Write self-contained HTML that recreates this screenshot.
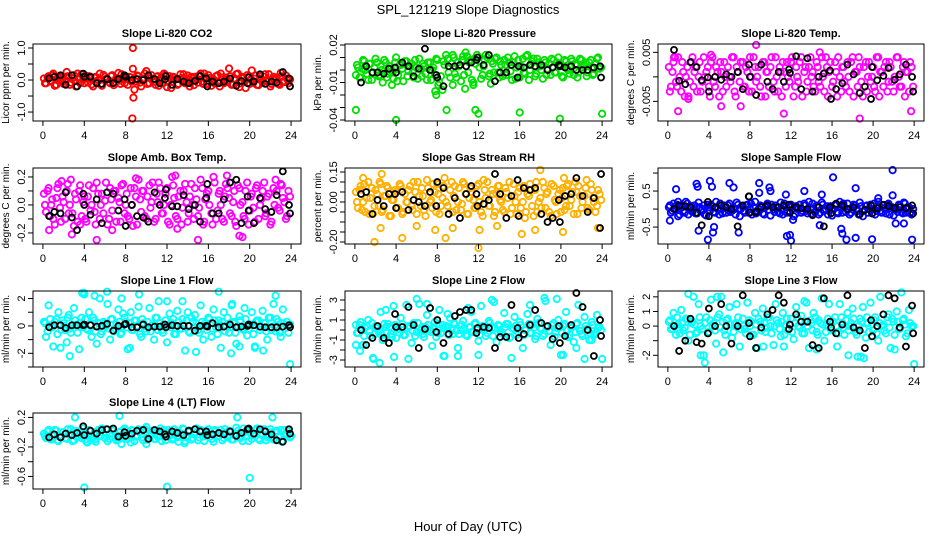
<!DOCTYPE html>
<html><head><meta charset="utf-8"><style>
html,body{margin:0;padding:0;background:#fff;}
svg{display:block;font-family:"Liberation Sans",sans-serif;}
</style></head><body>
<svg id="chart" width="936" height="540" viewBox="0 0 936 540" xmlns="http://www.w3.org/2000/svg">
<rect width="936" height="540" fill="#fff"/>
<text x="468" y="14" text-anchor="middle" font-size="13">SPL_121219  Slope Diagnostics</text>
<text x="468" y="531" text-anchor="middle" font-size="13">Hour of Day (UTC)</text>
</svg>
<script>
// shared time categories (hours)
const timesC=[0.1,0.3,0.55,0.8,1.0,1.3,1.5,1.75,2.0,2.3,2.5,2.7,3.0,3.2,3.5,3.75,4.0,4.2,4.45,4.7,5.0,5.2,5.5,5.7,6.0,6.25,6.5,6.7,7.0,7.3,7.5,7.75,8.0,8.2,8.5,8.7,9.0,9.25,9.5,9.7,10.0,10.3,10.5,10.75,11.0,11.2,11.5,11.7,12.0,12.25,12.5,12.7,13.0,13.3,13.5,13.75,14.0,14.2,14.5,14.7,15.0,15.25,15.5,15.7,16.0,16.3,16.5,16.75,17.0,17.2,17.5,17.7,18.0,18.25,18.5,18.7,19.0,19.3,19.5,19.75,20.0,20.2,20.5,20.7,21.0,21.25,21.5,21.7,22.0,22.3,22.5,22.75,23.0,23.2,23.5,23.75];
const timesC2=[0.2,0.45,0.7,0.9,1.15,1.4,1.65,1.9,2.15,2.4,2.6,2.85,3.1,3.35,3.6,3.9,4.1,4.35,4.6,4.85,5.1,5.35,5.6,5.85,6.1,6.4,6.6,6.85,7.1,7.4,7.6,7.9,8.1,8.35,8.6,8.85,9.1,9.4,9.6,9.85,10.1,10.4,10.6,10.9,11.1,11.35,11.6,11.85,12.1,12.4,12.6,12.85,13.1,13.4,13.6,13.9,14.1,14.35,14.6,14.85,15.1,15.4,15.6,15.85,16.1,16.4,16.6,16.9,17.1,17.35,17.6,17.85,18.1,18.4,18.6,18.85,19.1,19.4,19.6,19.9,20.1,20.35,20.6,20.85,21.1,21.4,21.6,21.85,22.1,22.4,22.6,22.9,23.1,23.35,23.6,23.9];
const timesK=[0.6,1.1,1.7,2.2,2.8,3.3,3.9,4.0,4.6,5.2,5.7,6.2,6.8,7.3,7.9,8.0,8.6,9.1,9.7,10.2,10.8,11.3,11.8,11.9,12.5,13.0,13.6,14.1,14.7,15.2,15.8,15.9,16.4,17.0,17.5,18.1,18.7,19.2,19.8,19.9,20.4,21.0,21.5,22.1,22.6,23.2,23.8,23.9];
const xTicks=[0,4,8,12,16,20,24];

// Panel 1: CO2
const co2Vals=[0.05,-0.1,0.12,-0.05,0.2,-0.15,0.08,0.0,-0.12,0.25,0.1,-0.08,0.15,-0.2,0.03,0.18,-0.1,0.05,0.12,-0.14,0.07,-0.05,0.2,-0.18,0.1,0.02,-0.1,0.15,-0.06,0.22,-0.12,0.05,0.1,-0.15,0.08,0.35,-0.05,0.12,-0.2,0.04,0.28,-0.1,0.15,-0.05,0.1,-0.18,0.06,0.2,-0.22,0.12,-0.04,0.08,-0.15,0.18,0.02,-0.1,0.14,-0.2,0.06,0.1,-0.08,0.2,-0.12,0.05,0.15,-0.18,0.02,0.12,-0.06,0.2,-0.1,0.08,0.36,-0.15,0.05,0.18,-0.22,0.1,-0.05,0.15,-0.12,0.3,0.04,-0.15,0.12,-0.08,0.18,0.0,-0.2,0.1,0.06,-0.12,0.22,-0.05,0.14,-0.1];
const co2Vals2=[-0.1,0.08,-0.02,0.15,-0.18,0.04,0.1,-0.06,0.0,0.12,-0.15,0.06,-0.03,0.2,-0.1,0.02,0.14,-0.08,0.05,-0.2,0.1,0.0,-0.12,0.16,0.03,-0.07,0.12,-0.16,0.06,-0.02,0.18,-0.1,0.04,0.1,-0.05,-0.3,0.14,-0.08,0.02,0.2,-0.12,0.06,0.0,-0.15,0.12,0.04,-0.1,0.16,-0.06,-0.25,0.1,0.02,-0.12,0.06,0.18,-0.08,0.0,0.1,-0.16,0.04,0.14,-0.05,0.2,-0.12,0.06,0.02,-0.1,0.15,-0.2,0.08,0.0,-0.06,0.12,-0.14,0.04,0.2,-0.1,0.06,-0.25,0.1,0.02,-0.08,0.14,-0.16,0.05,0.1,-0.04,0.18,-0.12,0.0,0.08,-0.15,0.12,-0.06,0.04,0.02];
const co2OutX=[8.7,8.65,8.75];
const co2OutY=[1.0,-1.2,-0.55];
const co2Ref=[0.05,0.1,0.15,-0.15,0.15,-0.2,0.2,0.1,0.1,-0.1,-0.12,0.03,-0.1,0.03,0.15,0.1,0.0,0.03,0.0,0.15,0.03,-0.1,0.02,0.12,-0.15,0.03,-0.05,-0.1,-0.03,0.12,0.05,-0.2,-0.05,-0.1,-0.05,0.05,-0.18,-0.03,-0.1,0.08,-0.05,0.18,-0.12,-0.05,-0.08,0.25,0.05,-0.2];

// Panel 2: Pressure
const presVals=[-0.004,0.002,-0.006,0.008,0.0,-0.008,0.005,-0.002,0.009,-0.005,0.003,-0.01,0.006,-0.003,0.001,-0.007,0.01,-0.004,0.004,-0.009,0.007,-0.001,0.005,-0.006,0.002,0.009,-0.005,0.003,-0.008,0.006,0.0,-0.004,0.008,-0.01,-0.016,0.004,0.009,-0.006,0.012,-0.003,0.006,-0.009,0.011,0.014,-0.002,0.008,-0.012,0.005,0.01,-0.007,0.003,0.012,-0.005,0.007,-0.002,0.01,-0.006,0.004,0.008,-0.004,0.006,-0.008,0.011,0.002,-0.006,0.009,-0.003,0.012,0.0,0.007,-0.005,0.009,0.003,-0.007,0.006,0.001,-0.004,0.008,-0.002,0.01,0.004,-0.006,0.007,0.0,0.009,-0.004,0.005,-0.002,0.008,0.003,-0.005,0.006,0.002,-0.003,0.009,0.001];
const presVals2=[0.004,-0.006,0.001,0.007,-0.003,0.005,-0.008,0.002,0.006,-0.004,0.0,0.008,-0.006,0.003,-0.001,0.006,-0.009,0.004,0.001,0.007,-0.005,0.003,-0.002,0.008,-0.007,0.001,0.005,-0.003,0.006,-0.008,0.002,0.009,-0.012,-0.005,0.007,0.012,-0.002,0.005,0.01,-0.006,0.003,0.008,-0.004,0.011,0.006,-0.008,0.009,0.012,0.002,-0.004,0.008,0.01,-0.003,0.005,0.009,-0.002,0.007,-0.005,0.004,0.01,-0.001,0.006,-0.007,0.008,0.003,-0.002,0.011,-0.008,0.005,0.009,-0.003,0.006,0.0,0.008,-0.004,0.005,0.009,-0.002,0.006,0.003,-0.005,0.008,0.001,-0.003,0.007,0.004,-0.006,0.009,0.002,0.006,-0.002,0.008,-0.004,0.005,0.01,0.002];
const presOutX=[0.1,4.0,7.9,8.9,10.7,11.7,12.0,16.0,19.9,24.0,11.5,7.8,9.5,13.2,3.6];
const presOutY=[-0.032,-0.04,-0.02,-0.032,-0.015,-0.032,-0.035,-0.034,-0.039,-0.035,-0.01,-0.017,-0.012,-0.011,-0.012];
const presRef=[-0.01,0.003,-0.002,-0.002,-0.003,0.001,0.002,-0.002,0.006,0.003,-0.005,0.001,0.017,0.0,-0.004,-0.006,-0.013,0.003,0.003,0.004,0.003,0.006,0.008,0.01,0.004,0.012,-0.009,-0.002,-0.002,0.004,-0.006,0.003,0.002,0.004,0.003,0.004,0.0,0.002,0.004,0.003,0.002,0.003,0.0,0.0,0.0,0.002,0.003,-0.006];

// Panel 3: Li-820 Temp
const tempVals=[0.002,-0.002,0.003,-0.001,0.004,-0.003,0.001,0.0,-0.004,0.003,-0.002,0.002,0.0,-0.003,0.004,0.001,-0.002,0.003,-0.001,0.002,-0.004,0.001,0.003,-0.002,0.0,0.004,-0.003,0.002,-0.001,0.003,-0.002,0.001,0.004,-0.003,0.002,0.0,-0.002,0.003,-0.004,0.001,0.002,-0.001,0.004,-0.003,0.001,0.003,-0.002,0.0,0.003,-0.004,0.002,-0.001,0.004,0.001,-0.003,0.002,0.0,-0.002,0.003,-0.001,0.004,-0.003,0.002,0.001,-0.002,0.003,-0.004,0.0,0.002,-0.001,0.003,-0.003,0.004,0.001,-0.002,0.002,-0.004,0.003,0.0,-0.001,0.002,-0.003,0.004,0.001,-0.002,0.003,-0.001,0.002,-0.003,0.004,0.0,-0.002,0.003,0.001,-0.003,0.002];
const tempVals2=[-0.003,0.001,0.004,-0.002,0.0,0.003,-0.004,0.002,-0.001,0.004,0.001,-0.003,0.003,-0.001,0.0,0.002,-0.004,0.004,-0.002,0.001,0.003,-0.003,0.0,0.002,-0.001,0.004,-0.004,0.001,0.003,-0.002,0.002,-0.003,0.0,0.004,-0.001,0.002,-0.004,0.003,0.001,-0.002,0.004,-0.003,0.0,0.002,-0.004,0.001,0.003,-0.001,0.004,-0.002,0.0,0.003,-0.004,0.002,-0.001,0.004,0.001,-0.003,0.002,-0.002,0.0,0.004,-0.004,0.003,-0.001,0.001,0.004,-0.003,0.002,-0.002,0.0,0.003,-0.004,0.001,0.004,-0.001,0.002,-0.003,0.003,0.0,-0.002,0.004,-0.004,0.001,0.002,-0.003,0.003,-0.001,0.0,0.004,-0.002,0.002,-0.004,0.001,0.003,-0.002];
const tempOutX=[0.6,1.0,8.6,11.3,18.7,23.7,5.2,7.1,2.0,4.2,14.8];
const tempOutY=[0.004,-0.007,0.0065,-0.0075,-0.0085,-0.007,-0.006,-0.006,-0.0045,0.0045,0.005];
const tempRef=[0.0055,-0.0008,-0.0015,0.003,0.002,-0.0007,-0.0001,-0.003,0.0,-0.0006,0.0005,0.0,0.001,-0.0025,0.0025,0.0,-0.0037,0.0025,-0.001,-0.0025,0.001,-0.001,0.0015,0.0008,0.0042,-0.0025,0.0038,-0.003,0.0,0.0007,0.0013,-0.0045,-0.0025,-0.0013,0.0025,0.0005,-0.0033,-0.002,-0.0045,0.002,-0.0007,0.0002,0.0018,-0.0006,0.0005,0.0025,0.0,-0.003];

// Panel 4: Amb Box Temp
const ambVals=[0.08,-0.05,0.12,0.0,-0.1,0.05,0.15,-0.12,0.02,0.1,-0.06,0.18,-0.15,0.04,0.1,-0.08,0.06,-0.12,0.14,0.0,-0.05,0.16,-0.1,0.08,0.03,-0.14,0.12,-0.04,0.1,0.05,-0.12,0.15,0.0,-0.08,0.12,-0.15,0.06,0.18,-0.05,0.1,-0.1,0.14,0.02,-0.12,0.08,0.16,-0.06,0.0,0.12,-0.14,0.2,0.05,-0.1,0.1,-0.02,0.15,-0.12,0.06,0.0,0.12,-0.08,0.18,-0.14,0.04,0.1,-0.06,0.2,-0.1,0.08,0.0,-0.12,0.15,0.05,-0.08,0.1,-0.15,0.12,0.02,-0.1,0.16,-0.04,0.08,-0.12,0.14,0.0,0.1,-0.08,0.06,-0.14,0.12,0.18,-0.02,0.15,0.05,-0.1,0.1];
const ambVals2=[0.0,0.1,-0.08,0.04,-0.14,0.12,-0.02,0.06,-0.1,0.15,0.0,-0.06,0.08,-0.12,0.14,0.02,-0.1,0.06,-0.04,0.12,-0.14,0.08,0.0,-0.06,0.16,-0.1,0.04,0.1,-0.12,0.02,0.14,-0.06,0.08,-0.1,0.0,0.12,-0.14,0.04,0.1,-0.08,0.06,-0.02,0.16,-0.1,0.02,0.12,-0.06,0.08,-0.12,0.0,0.14,-0.08,0.06,-0.14,0.1,0.02,-0.06,0.15,-0.1,0.04,-0.02,0.12,-0.12,0.08,0.0,-0.14,0.16,-0.04,0.1,-0.1,0.06,0.12,-0.06,0.02,-0.12,0.14,0.0,-0.08,0.1,-0.14,0.06,-0.02,0.12,-0.1,0.04,0.16,-0.06,0.08,-0.12,0.0,0.1,-0.04,0.14,0.02,-0.08,0.06];
const ambOutX=[0.6,2.8,5.2,15.0,19.0,19.3,13.0,9.0,17.8,12.8,3.6,6.7,1.8];
const ambOutY=[-0.18,-0.21,-0.25,-0.25,-0.22,-0.23,-0.17,0.19,0.21,0.21,-0.14,-0.18,0.17];
const ambRef=[-0.08,-0.05,-0.06,0.09,-0.09,-0.18,0.08,0.0,-0.07,0.04,-0.13,0.09,0.08,-0.04,0.04,-0.15,0.0,-0.08,-0.09,-0.12,0.09,0.0,0.05,0.11,-0.01,-0.01,0.07,-0.03,0.0,-0.12,0.05,0.15,-0.06,-0.06,0.04,0.16,0.18,-0.13,0.06,-0.04,-0.13,0.05,-0.03,-0.05,0.07,0.24,0.0,-0.06];

// Panel 5: Gas Stream RH
const rhVals=[0.05,-0.03,0.08,0.0,-0.05,0.1,0.02,-0.06,0.06,-0.02,0.09,-0.04,0.03,0.07,-0.07,0.01,0.05,-0.03,0.08,-0.05,0.0,0.06,-0.02,0.1,-0.06,0.03,0.07,-0.04,0.11,0.0,-0.03,0.05,0.09,-0.06,0.02,0.12,-0.02,0.06,-0.05,0.08,0.0,-0.04,0.1,0.04,-0.06,0.07,0.01,-0.03,0.09,-0.05,0.11,0.02,-0.02,0.06,-0.07,0.04,0.08,0.0,-0.05,0.05,0.1,-0.03,0.03,-0.06,0.07,0.0,-0.08,0.04,0.09,-0.02,0.06,-0.05,0.02,0.1,-0.03,0.05,-0.07,0.08,0.0,0.04,-0.05,0.07,-0.02,0.09,0.01,-0.06,0.05,0.08,-0.03,0.03,0.11,-0.04,0.06,0.0,-0.02,0.04];
const rhVals2=[0.0,0.06,-0.04,0.09,0.02,-0.06,0.07,-0.02,0.04,0.1,-0.05,0.03,0.08,-0.07,0.01,0.06,-0.03,0.09,-0.06,0.04,0.0,0.08,-0.04,0.05,0.1,-0.02,0.03,-0.07,0.07,0.01,0.09,-0.05,0.04,-0.02,0.08,0.0,-0.06,0.1,0.03,-0.04,0.07,-0.01,0.09,-0.06,0.02,0.05,-0.03,0.08,0.0,-0.07,0.06,0.1,-0.02,0.04,-0.05,0.08,0.01,-0.04,0.07,0.02,-0.06,0.09,0.0,0.05,-0.03,0.08,-0.05,0.03,0.06,-0.07,0.1,0.0,-0.03,0.07,0.04,-0.05,0.09,0.01,-0.06,0.06,0.02,-0.04,0.08,-0.02,0.05,0.1,-0.06,0.03,0.0,0.07,-0.03,0.09,0.02,-0.05,0.06,0.01];
const rhOutX=[0.8,2.5,2.6,4.6,6.0,7.8,8.8,12.0,12.1,16.2,17.5,18.0,20.2,20.3,23.6,1.9,9.5,13.8];
const rhOutY=[0.12,-0.13,0.14,-0.18,-0.12,-0.14,-0.18,-0.23,-0.14,-0.16,-0.14,0.16,-0.15,0.12,-0.13,-0.2,-0.13,-0.12];
const rhRef=[0.04,0.05,-0.06,0.01,-0.02,0.04,0.04,-0.03,0.05,-0.04,0.01,0.0,-0.02,0.05,-0.02,0.1,0.07,-0.06,0.02,-0.08,0.04,0.08,0.04,-0.02,-0.01,0.01,0.14,0.04,-0.08,0.03,0.11,-0.07,0.07,0.06,0.07,-0.06,-0.1,-0.08,0.01,-0.1,0.03,0.04,0.12,0.03,-0.05,0.02,-0.13,0.14];

// Panel 6: Sample Flow
const sampVals=[0.05,-0.1,0.15,0.0,-0.2,0.1,-0.05,0.2,-0.15,0.08,0.0,-0.12,0.18,-0.05,0.1,-0.18,0.05,0.12,-0.08,0.2,-0.15,0.02,0.1,-0.1,0.15,-0.05,0.0,0.18,-0.2,0.08,-0.1,0.12,0.0,-0.15,0.2,-0.05,0.1,-0.12,0.05,0.15,-0.18,0.0,0.1,-0.08,0.18,-0.15,0.05,-0.05,0.12,-0.2,0.08,0.0,-0.1,0.15,-0.05,0.2,-0.12,0.02,0.1,-0.15,0.18,-0.05,0.08,0.0,-0.18,0.12,-0.08,0.2,-0.1,0.05,0.15,-0.15,0.0,0.1,-0.05,0.18,-0.2,0.08,-0.1,0.12,0.0,-0.15,0.2,-0.05,0.1,-0.12,0.15,0.05,-0.18,0.0,0.12,-0.08,0.18,-0.1,0.05,-0.15];
const sampVals2=[0.1,-0.05,0.0,0.12,-0.15,0.05,-0.1,0.15,0.02,-0.08,0.1,-0.12,0.05,0.0,-0.15,0.12,-0.05,0.08,-0.1,0.0,0.15,-0.12,0.05,0.1,-0.08,0.02,-0.15,0.12,0.0,-0.05,0.1,-0.1,0.15,0.05,-0.12,0.0,0.08,-0.15,0.1,-0.02,0.12,-0.08,0.05,-0.12,0.0,0.15,-0.1,0.05,0.08,-0.15,0.02,0.12,-0.05,0.1,-0.12,0.0,0.15,-0.08,0.05,-0.1,0.12,0.0,-0.15,0.08,-0.02,0.1,-0.12,0.05,0.15,-0.08,0.0,-0.1,0.12,0.02,-0.15,0.08,-0.05,0.1,0.0,-0.12,0.15,-0.05,0.08,-0.1,0.02,0.12,-0.15,0.05,0.0,-0.08,0.1,-0.12,0.15,0.05,-0.1,0.0];
const sampOutX=[0.2,0.8,2.8,2.9,3.0,4.1,4.3,4.4,6.0,6.4,6.9,8.9,8.9,9.9,10.0,11.6,11.9,12.0,13.3,14.8,16.1,16.9,17.0,17.4,18.3,18.3,19.9,21.9,21.9,23.8,3.9,4.5,7.9,12.2,11.5,20.5,22.2,1.0,15.0,23.0];
const sampOutY=[-0.32,0.55,0.7,0.62,-0.6,0.78,0.62,-0.65,0.72,0.6,-0.65,0.72,0.45,0.6,0.5,-0.75,-0.72,-0.88,0.5,-0.45,0.88,-0.55,-0.68,-0.85,0.58,-0.8,-0.84,1.08,0.38,-0.85,-0.85,-0.5,0.35,-0.3,0.4,0.3,-0.4,0.2,0.4,-0.4];
const sampRef=[0.0,0.1,0.08,0.05,-0.1,-0.45,0.2,-0.2,0.05,0.1,0.05,0.0,-0.48,0.1,0.35,-0.1,-0.08,0.05,0.1,0.05,0.05,0.1,0.12,-0.1,0.05,0.02,0.0,-0.17,0.05,-0.48,0.05,-0.12,0.15,0.1,0.0,0.05,-0.15,-0.02,0.1,-0.12,0.02,0.12,0.08,0.03,0.05,0.03,0.1,-0.12];

// Panel 7: Line 1 Flow
const l1Vals=[0.3,-0.8,1.5,0.0,-1.5,0.5,1.0,-0.3,0.2,-1.2,0.8,-0.5,1.3,0.1,-1.7,0.6,2.3,-0.2,1.0,-0.8,0.4,-1.3,2.0,-0.4,0.2,1.6,-1.0,0.5,-0.2,1.2,-0.6,0.9,0.3,-1.7,1.0,-0.3,0.4,1.4,-0.8,0.2,-0.4,1.3,0.0,-1.0,0.6,1.8,-0.3,0.1,-1.2,0.9,0.2,-0.6,1.1,-0.2,0.5,-1.8,1.0,-0.5,0.3,0.8,-0.3,1.5,-1.0,0.2,0.6,-0.8,1.2,-0.1,0.4,-1.6,1.0,0.0,-0.5,1.5,0.3,-1.3,0.7,-0.2,1.3,-0.7,0.1,1.0,-1.5,0.4,-0.3,1.1,0.2,-1.0,0.6,1.6,-0.4,0.3,-0.8,1.2,0.1,-0.5];
const l1Vals2=[0.2,-0.4,0.5,-0.1,0.3,-0.6,0.1,0.4,-0.3,0.6,-0.2,0.0,0.4,-0.5,0.2,-0.1,0.5,-0.3,0.1,0.6,-0.4,0.2,-0.6,0.3,0.0,-0.2,0.5,-0.4,0.1,0.3,-0.5,0.6,-0.1,0.2,-0.3,0.4,0.0,-0.6,0.5,-0.2,0.3,-0.4,0.1,0.6,-0.3,0.2,-0.5,0.4,0.0,-0.1,0.5,-0.6,0.3,-0.2,0.1,0.4,-0.4,0.6,-0.1,0.2,-0.5,0.3,0.0,-0.3,0.5,-0.2,0.4,-0.6,0.1,0.3,-0.4,0.6,-0.1,0.2,-0.5,0.0,0.4,-0.3,0.5,-0.2,0.1,-0.6,0.3,0.4,-0.1,0.2,-0.4,0.6,-0.3,0.0,0.5,-0.5,0.2,-0.2,0.3,0.1];
const l1OutX=[2.6,3.8,4.0,5.0,6.2,7.6,9.3,12.0,13.5,14.8,17.0,18.2,18.3,19.0,20.5,22.5,23.9,21.3,1.7,8.4];
const l1OutY=[-2.2,2.4,2.4,2.2,2.5,2.0,2.3,1.8,1.8,-1.9,2.5,-2.0,1.6,-1.5,-1.6,2.2,-2.8,-1.8,-1.6,-1.6];
const l1Ref=[-0.1,0.05,0.05,-0.15,0.05,0.05,0.05,0.1,0.05,-0.05,0.0,0.15,-0.35,0.0,0.1,0.15,-0.1,-0.1,0.1,-0.1,-0.05,-0.05,0.1,-0.1,0.05,0.0,0.0,0.0,-0.35,0.0,0.0,-0.05,0.2,-0.1,-0.05,0.1,-0.1,-0.05,0.0,0.1,0.05,-0.05,-0.1,-0.1,-0.1,-0.05,0.05,-0.1];

// Panel 8: Line 2 Flow
const l2Vals=[0.5,-0.3,0.8,-1.5,0.2,1.0,-0.6,-2.8,0.4,-0.2,1.8,-1.0,0.3,0.6,-0.4,2.4,-0.8,0.1,1.2,-0.5,2.5,0.4,-1.3,0.7,-0.2,2.6,0.3,-0.7,1.5,0.0,-1.6,0.8,-0.3,2.0,0.5,-2.6,0.2,1.2,-0.4,0.6,-1.8,0.0,0.9,-0.5,2.2,0.3,-0.2,0.7,-1.1,2.4,0.1,-0.6,0.9,0.2,2.8,-1.2,0.4,-0.3,1.7,0.6,-0.8,0.2,1.3,-0.5,0.8,-1.8,0.0,1.6,-0.3,0.5,-0.9,1.1,0.2,-0.6,2.9,0.3,-1.5,0.7,-0.2,1.0,-2.5,0.4,1.8,-0.7,0.2,-1.2,0.6,2.5,-0.4,1.3,0.1,-1.0,0.8,-0.5,1.5,0.3];
const l2Vals2=[-0.3,0.5,0.1,-0.6,0.4,-0.1,0.7,-0.4,0.2,0.0,-0.5,0.6,-0.2,0.3,-0.7,0.5,0.1,-0.3,0.6,-0.5,0.2,0.4,-0.1,-0.6,0.7,0.0,-0.4,0.3,0.5,-0.2,0.1,-0.7,0.6,-0.3,0.2,0.4,-0.5,0.0,0.7,-0.1,-0.4,0.5,0.2,-0.6,0.3,-0.2,0.6,0.0,-0.5,0.4,0.1,-0.3,0.7,-0.6,0.2,0.5,-0.1,-0.4,0.3,0.6,-0.7,0.1,0.4,-0.2,0.5,-0.5,0.0,0.6,-0.3,0.2,-0.6,0.7,0.1,-0.4,0.3,-0.1,0.5,-0.7,0.2,0.4,-0.3,0.6,0.0,-0.5,0.3,-0.2,0.7,-0.1,-0.6,0.4,0.1,-0.4,0.5,-0.3,0.2,0.0];
const l2OutX=[0.1,0.5,1.8,2.4,3.0,3.8,5.2,6.0,7.0,8.6,10.0,12.0,13.3,15.2,17.0,18.4,19.6,20.2,21.5,22.3,23.0,24.0,9.0,11.3];
const l2OutY=[-1.5,-2.1,-2.9,-3.3,2.0,-2.7,-2.9,3.1,2.6,-2.6,-2.6,-2.5,3.0,-2.8,2.5,3.2,3.1,-2.5,-1.8,-2.9,-1.0,-2.9,1.6,1.8];
const l2Ref=[0.0,-1.5,-0.8,0.4,-0.8,-1.3,1.6,0.3,0.3,2.3,0.5,-1.8,0.1,2.2,-0.2,1.0,-1.3,-0.4,1.4,1.8,2.0,2.0,-0.3,0.2,0.3,0.2,-1.8,-0.7,-0.7,2.5,0.2,-0.8,-0.4,0.5,2.0,0.7,0.4,-0.9,0.4,-1.3,-0.6,0.5,3.7,2.3,0.0,-2.6,1.0,-0.6];

// Panel 9: Line 3 Flow
const l3Vals=[0.3,-0.2,0.9,-0.6,0.1,1.1,-0.3,0.5,-1.0,0.2,2.0,-0.5,1.5,0.0,-2.0,0.6,-0.4,1.8,0.2,-1.2,0.8,2.0,-0.3,0.4,1.3,-0.8,0.1,1.5,-1.4,0.5,-0.2,1.6,0.0,-0.6,0.9,-1.5,0.3,1.2,-0.4,0.6,0.0,-1.3,1.5,0.2,-0.7,0.9,0.1,-0.3,0.5,-0.9,1.3,0.0,0.7,-0.5,1.6,-1.5,0.2,0.9,-0.4,0.4,1.9,-1.0,0.1,1.5,-0.3,0.6,-1.4,1.5,0.2,-0.6,0.9,0.0,1.2,-0.4,-2.1,0.5,1.3,-0.8,0.2,1.6,-0.3,0.6,-1.0,2.0,0.1,-0.5,0.8,-1.5,0.3,1.0,-0.2,2.3,0.5,-0.7,1.1,0.0];
const l3Vals2=[0.4,-0.2,0.0,0.6,-0.5,0.2,-0.1,0.5,-0.6,0.3,0.1,-0.4,0.6,-0.2,0.2,-0.5,0.4,0.0,-0.3,0.6,-0.1,0.3,-0.6,0.5,0.1,-0.4,0.2,0.6,-0.2,0.0,-0.5,0.4,0.3,-0.6,0.1,0.5,-0.3,0.2,-0.1,0.6,-0.5,0.0,0.4,-0.2,0.3,-0.6,0.5,0.1,-0.4,0.2,0.6,-0.1,-0.5,0.3,0.0,0.4,-0.3,0.6,-0.6,0.2,0.1,-0.4,0.5,-0.2,0.3,0.0,-0.5,0.6,-0.1,0.4,-0.3,0.2,0.5,-0.6,0.0,0.3,-0.2,0.6,-0.4,0.1,0.4,-0.5,0.2,0.0,-0.3,0.6,-0.1,0.5,-0.6,0.3,-0.2,0.4,0.1,-0.5,0.2,0.0];
const l3OutX=[3.6,3.2,5.4,2.0,8.6,14.5,17.6,18.8,19.1,24.0,9.3,22.1,4.8,13.3,11.3];
const l3OutY=[-2.5,-2.0,-1.8,2.2,-1.5,-1.6,-2.0,-2.1,-2.2,-2.6,-1.4,-1.6,2.0,1.7,-1.4];
const l3Ref=[0.0,-1.7,-1.0,0.5,-1.1,-1.2,-0.5,1.2,0.0,1.5,0.0,-1.2,0.0,2.1,0.2,-0.7,-1.5,-0.1,0.8,1.1,2.1,1.6,-0.2,0.1,0.8,0.3,0.3,-1.3,-1.5,1.9,0.3,-0.1,-0.5,0.1,2.1,-0.1,-0.3,-1.5,0.4,-0.7,0.0,0.8,2.1,1.9,-0.1,-1.4,1.4,-0.5];

// Panel 10: Line 4 (LT) Flow
const l4Vals=[-0.02,-0.08,0.03,-0.1,-0.04,0.02,-0.12,-0.05,0.0,-0.09,-0.03,0.04,-0.11,-0.06,0.01,-0.08,-0.02,-0.13,0.03,-0.06,-0.1,0.0,-0.04,0.05,-0.08,-0.12,-0.02,0.04,-0.07,-0.1,0.01,-0.05,0.03,-0.09,-0.14,0.02,-0.06,0.04,-0.03,-0.11,0.07,-0.05,-0.01,-0.09,0.02,-0.06,-0.12,0.03,-0.04,0.0,-0.1,0.04,-0.07,-0.02,0.05,-0.12,-0.05,0.02,-0.08,0.0,-0.11,0.03,-0.06,-0.02,0.04,-0.09,-0.13,0.01,-0.05,0.03,-0.08,-0.01,0.02,-0.1,-0.04,0.06,-0.07,-0.12,0.0,-0.05,0.03,-0.09,-0.02,0.05,-0.11,-0.04,0.02,-0.07,0.04,-0.1,0.0,-0.06,0.03,-0.12,-0.03,0.01];
const l4Vals2=[-0.05,0.01,-0.09,-0.02,0.03,-0.11,-0.06,0.0,-0.08,0.04,-0.03,-0.12,0.02,-0.07,-0.01,0.05,-0.1,-0.04,0.01,-0.08,-0.13,0.03,-0.05,-0.02,0.04,-0.09,-0.06,0.02,-0.11,0.0,-0.04,0.05,-0.08,-0.02,0.03,-0.12,-0.05,0.01,-0.07,0.04,-0.1,-0.03,0.02,-0.09,-0.06,0.05,-0.01,-0.11,0.03,-0.04,-0.08,0.01,-0.13,-0.02,0.04,-0.06,0.0,-0.1,-0.03,0.05,-0.07,0.02,-0.12,-0.04,0.01,-0.09,0.03,-0.05,-0.01,-0.11,0.04,-0.07,0.0,-0.1,-0.03,0.02,-0.08,0.05,-0.06,-0.12,0.01,-0.04,0.03,-0.09,-0.02,0.04,-0.11,-0.05,0.0,-0.08,0.02,-0.06,-0.13,0.03,-0.03,-0.07];
const l4OutX=[4.0,12.0,20.0,3.1,7.4,18.8,22.2,4.3,7.6,10.0,24.0,13.7];
const l4OutY=[-0.75,-0.74,-0.62,0.2,0.22,0.2,0.2,-0.14,-0.16,-0.16,-0.05,-0.15];
const l4Ref=[-0.07,-0.03,-0.07,-0.02,-0.04,-0.01,0.08,-0.04,0.02,-0.02,0.03,0.04,0.05,-0.06,0.0,-0.05,-0.02,0.02,0.03,-0.09,0.03,0.01,-0.03,-0.06,0.01,-0.01,-0.04,0.02,0.04,0.01,0.01,-0.04,-0.03,-0.01,-0.03,0.01,-0.05,-0.01,0.04,0.05,-0.02,0.04,0.01,-0.03,-0.11,-0.13,0.04,-0.02];

const panels=[
 {key:'co2',title:'Slope Li-820 CO2',ylab:'Licor ppm per min.',col:'#ff0000',box:[33,44,301,121],yr:[-1.28,1.125],ticks:[1,0.5,0,-0.5,-1],labels:[[1,'1.0'],[0,'0.0'],[-1,'-1.0']],v:co2Vals,v2:co2Vals2,ox:co2OutX,oy:co2OutY,k:co2Ref},
 {key:'pressure',title:'Slope Li-820 Pressure',ylab:'kPa per min.',col:'#00e000',box:[345,44,612,121],yr:[-0.0408,0.0208],ticks:[0.02,0.01,0,-0.01,-0.02,-0.03,-0.04],labels:[[0.02,'0.02'],[-0.01,'-0.01'],[-0.04,'-0.04']],v:presVals,v2:presVals2,ox:presOutX,oy:presOutY,k:presRef},
 {key:'li820-temp',title:'Slope Li-820 Temp.',ylab:'degrees C  per min.',col:'#ff00ff',box:[658,44,924,121],yr:[-0.009,0.0067],ticks:[0.005,0,-0.005],labels:[[0.005,'0.005'],[-0.005,'-0.005']],v:tempVals,v2:tempVals2,ox:tempOutX,oy:tempOutY,k:tempRef},
 {key:'amb-box-temp',title:'Slope Amb. Box Temp.',ylab:'degrees C per min.',col:'#ff00ff',box:[33,168,301,244],yr:[-0.279,0.264],ticks:[0.2,0.1,0,-0.1,-0.2],labels:[[0.2,'0.2'],[0,'0.0'],[-0.2,'-0.2']],v:ambVals,v2:ambVals2,ox:ambOutX,oy:ambOutY,k:ambRef},
 {key:'gas-stream-rh',title:'Slope Gas Stream RH',ylab:'percent per min.',col:'#ffb000',box:[345,168,612,244],yr:[-0.21,0.17],ticks:[0.15,0.1,0.05,0,-0.05,-0.1,-0.15,-0.2],labels:[[0.15,'0.15'],[0,'0.00'],[-0.2,'-0.20']],v:rhVals,v2:rhVals2,ox:rhOutX,oy:rhOutY,k:rhRef},
 {key:'sample-flow',title:'Slope Sample Flow',ylab:'ml/min per min.',col:'#0000ff',box:[658,168,924,244],yr:[-0.97,1.14],ticks:[1,0.5,0,-0.5],labels:[[0.5,'0.5'],[-0.5,'-0.5']],v:sampVals,v2:sampVals2,ox:sampOutX,oy:sampOutY,k:sampRef},
 {key:'line1-flow',title:'Slope Line 1 Flow',ylab:'ml/min per min.',col:'#00ffff',box:[33,291,301,367],yr:[-3.0,2.55],ticks:[2,1,0,-1,-2,-3],labels:[[2,'2'],[0,'0'],[-2,'-2']],v:l1Vals,v2:l1Vals2,ox:l1OutX,oy:l1OutY,k:l1Ref},
 {key:'line2-flow',title:'Slope Line 2 Flow',ylab:'ml/min per min.',col:'#00ffff',box:[345,291,612,367],yr:[-3.7,3.9],ticks:[3,2,1,0,-1,-2,-3],labels:[[3,'3'],[1,'1'],[-1,'-1'],[-3,'-3']],v:l2Vals,v2:l2Vals2,ox:l2OutX,oy:l2OutY,k:l2Ref},
 {key:'line3-flow',title:'Slope Line 3 Flow',ylab:'ml/min per min.',col:'#00ffff',box:[658,291,924,367],yr:[-2.8,2.4],ticks:[2,1,0,-1,-2],labels:[[2,'2'],[1,'1'],[0,'0'],[-2,'-2']],v:l3Vals,v2:l3Vals2,ox:l3OutX,oy:l3OutY,k:l3Ref},
 {key:'line4-flow',title:'Slope Line 4 (LT) Flow',ylab:'ml/min per min.',col:'#00ffff',box:[33,413,301,489],yr:[-0.77,0.26],ticks:[0.2,0,-0.2,-0.4,-0.6],labels:[[0.2,'0.2'],[-0.2,'-0.2'],[-0.6,'-0.6']],v:l4Vals,v2:l4Vals2,ox:l4OutX,oy:l4OutY,k:l4Ref}
];

const svg=document.getElementById('chart');
const NS='http://www.w3.org/2000/svg';
function mk(tag,attrs,parent){const e=document.createElementNS(NS,tag);for(const a in attrs)e.setAttribute(a,attrs[a]);parent.appendChild(e);return e;}

panels.forEach(p=>{
  const [x0,y0,x1,y1]=p.box;
  const xs=h=>x0+(h+0.96)/25.92*(x1-x0);
  const ys=v=>y1-(v-p.yr[0])/(p.yr[1]-p.yr[0])*(y1-y0);
  const g=mk('g',{},svg);
  
  
  const t=mk('text',{x:(x0+x1)/2,y:y0-7,'text-anchor':'middle','font-size':'11','font-weight':'bold'},g);
  t.textContent=p.title;
  
  
  const yl=mk('text',{transform:`translate(${x0-24},${(y0+y1)/2}) rotate(-90)`,'text-anchor':'middle','font-size':'10'},g);
  yl.textContent=p.ylab;
  
  
  const pts=mk('g',{},g);
  
  
  const n=Math.min(timesC.length,p.v.length);
  for(let i=0;i<n;i++){
    const c=mk('circle',{cx:xs(timesC[i]),cy:ys(p.v[i]),r:3.2,fill:'none',stroke:p.col,'stroke-width':1.8},pts);
    
    
  }
  const n2=Math.min(timesC2.length,p.v2.length);
  for(let i=0;i<n2;i++){
    const c=mk('circle',{cx:xs(timesC2[i]),cy:ys(p.v2[i]),r:3.2,fill:'none',stroke:p.col,'stroke-width':1.8},pts);
    
    
  }
  const m=Math.min(p.ox.length,p.oy.length);
  for(let i=0;i<m;i++){
    const c=mk('circle',{cx:xs(p.ox[i]),cy:ys(p.oy[i]),r:3.2,fill:'none',stroke:p.col,'stroke-width':1.8},pts);
    
    
  }
  const nk=Math.min(timesK.length,p.k.length);
  for(let i=0;i<nk;i++){
    const c=mk('circle',{cx:xs(timesK[i]),cy:ys(p.k[i]),r:3,fill:'none',stroke:'#000','stroke-width':1.8},pts);
    
    
  }
  const b=mk('rect',{x:x0,y:y0,width:x1-x0,height:y1-y0,fill:'none',stroke:'#000','stroke-width':1},g);
  
  
  xTicks.forEach(h=>{
    mk('line',{x1:xs(h),x2:xs(h),y1:y1,y2:y1+5,stroke:'#000'},g);
    const tl=mk('text',{x:xs(h),y:y1+18,'text-anchor':'middle','font-size':'11'},g);
    tl.textContent=h;
    
    
  });
  p.ticks.forEach(v=>{mk('line',{x1:x0-5,x2:x0,y1:ys(v),y2:ys(v),stroke:'#000'},g);});
  p.labels.forEach(([v,s])=>{
    const tl=mk('text',{transform:`translate(${x0-8},${ys(v)}) rotate(-90)`,'text-anchor':'middle','font-size':'11'},g);
    tl.textContent=s;
    
    
  });
});
</script>
</body></html>
